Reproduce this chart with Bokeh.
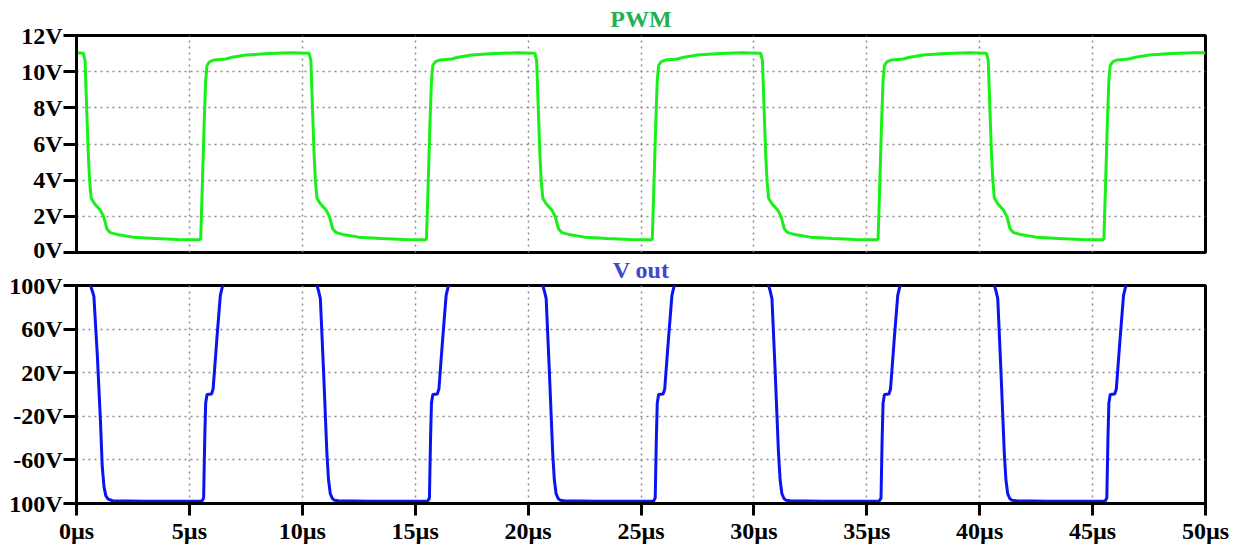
from bokeh.plotting import figure
from bokeh.layouts import column
from bokeh.models import Range1d, FixedTicker
from bokeh.embed import file_html
from bokeh.resources import INLINE

# ---------------- data ----------------
pwm_t = [0.0, 0.30, 0.38, 0.45, 0.52, 0.58, 0.65, 0.80, 1.05, 1.20, 1.35, 1.50, 1.80, 2.50, 3.50, 4.50, 5.45, 5.50, 5.58, 5.65, 5.72, 5.78, 5.90, 6.10, 6.60, 6.90, 7.50, 8.50, 9.50,
         10.30, 10.38, 10.45, 10.52, 10.58, 10.65, 10.80, 11.05, 11.20, 11.35, 11.50, 11.80, 12.50, 13.50, 14.50, 15.45, 15.50, 15.58, 15.65, 15.72, 15.78, 15.90, 16.10, 16.60, 16.90, 17.50, 18.50, 19.50,
         20.30, 20.38, 20.45, 20.52, 20.58, 20.65, 20.80, 21.05, 21.20, 21.35, 21.50, 21.80, 22.50, 23.50, 24.50, 25.45, 25.50, 25.58, 25.65, 25.72, 25.78, 25.90, 26.10, 26.60, 26.90, 27.50, 28.50, 29.50,
         30.30, 30.38, 30.45, 30.52, 30.58, 30.65, 30.80, 31.05, 31.20, 31.35, 31.50, 31.80, 32.50, 33.50, 34.50, 35.45, 35.50, 35.58, 35.65, 35.72, 35.78, 35.90, 36.10, 36.60, 36.90, 37.50, 38.50, 39.50,
         40.30, 40.38, 40.45, 40.52, 40.58, 40.65, 40.80, 41.05, 41.20, 41.35, 41.50, 41.80, 42.50, 43.50, 44.50, 45.45, 45.50, 45.58, 45.65, 45.72, 45.78, 45.90, 46.10, 46.60, 46.90, 47.50, 48.50, 49.50, 50.0]
pwm_v = [11.04, 11.02, 10.6, 8.0, 5.5, 4.0, 3.0, 2.7, 2.35, 2.0, 1.3, 1.1, 1.0, 0.85, 0.77, 0.72, 0.70, 0.75, 4.0, 7.0, 9.5, 10.35, 10.55, 10.65, 10.70, 10.80, 10.92, 11.0, 11.04,
         11.02, 10.6, 8.0, 5.5, 4.0, 3.0, 2.7, 2.35, 2.0, 1.3, 1.1, 1.0, 0.85, 0.77, 0.72, 0.70, 0.75, 4.0, 7.0, 9.5, 10.35, 10.55, 10.65, 10.70, 10.80, 10.92, 11.0, 11.04,
         11.02, 10.6, 8.0, 5.5, 4.0, 3.0, 2.7, 2.35, 2.0, 1.3, 1.1, 1.0, 0.85, 0.77, 0.72, 0.70, 0.75, 4.0, 7.0, 9.5, 10.35, 10.55, 10.65, 10.70, 10.80, 10.92, 11.0, 11.04,
         11.02, 10.6, 8.0, 5.5, 4.0, 3.0, 2.7, 2.35, 2.0, 1.3, 1.1, 1.0, 0.85, 0.77, 0.72, 0.70, 0.75, 4.0, 7.0, 9.5, 10.35, 10.55, 10.65, 10.70, 10.80, 10.92, 11.0, 11.04,
         11.02, 10.6, 8.0, 5.5, 4.0, 3.0, 2.7, 2.35, 2.0, 1.3, 1.1, 1.0, 0.85, 0.77, 0.72, 0.70, 0.75, 4.0, 7.0, 9.5, 10.35, 10.55, 10.65, 10.70, 10.80, 10.92, 11.0, 11.04, 11.05]

vout_t = [0.0, 0.55, 0.62, 0.70, 0.77, 0.92, 1.06, 1.14, 1.22, 1.30, 1.40, 1.60, 3.00, 5.55, 5.63, 5.68, 5.72, 5.78, 5.98, 6.05, 6.22, 6.37, 6.45, 6.55, 6.60,
          10.58, 10.65, 10.72, 10.80, 10.94, 11.09, 11.16, 11.24, 11.32, 11.42, 11.60, 13.00, 15.55, 15.63, 15.68, 15.72, 15.78, 15.98, 16.05, 16.22, 16.37, 16.45, 16.55, 16.60,
          20.58, 20.65, 20.72, 20.80, 20.94, 21.09, 21.16, 21.24, 21.32, 21.42, 21.60, 23.00, 25.55, 25.63, 25.68, 25.72, 25.78, 25.98, 26.05, 26.22, 26.37, 26.45, 26.55, 26.60,
          30.58, 30.65, 30.72, 30.80, 30.94, 31.09, 31.16, 31.24, 31.32, 31.42, 31.60, 33.00, 35.55, 35.63, 35.68, 35.72, 35.78, 35.98, 36.05, 36.22, 36.37, 36.45, 36.55, 36.60,
          40.58, 40.65, 40.72, 40.80, 40.94, 41.09, 41.16, 41.24, 41.32, 41.42, 41.60, 43.00, 45.55, 45.63, 45.68, 45.72, 45.78, 45.98, 46.05, 46.22, 46.37, 46.45, 46.55, 46.60, 50.0]
vout_v = [110, 110, 100, 95, 90, 37, -24, -66, -85, -93, -96, -97.5, -98, -98, -95, -40, -8, 0, 0.5, 5, 52, 91, 98, 104, 110,
          110, 100, 95, 88, 22, -54, -78, -91, -95, -97, -97.5, -98, -98, -95, -40, -8, 0, 0.5, 5, 52, 91, 98, 104, 110,
          110, 100, 95, 88, 22, -54, -78, -91, -95, -97, -97.5, -98, -98, -95, -40, -8, 0, 0.5, 5, 52, 91, 98, 104, 110,
          110, 100, 95, 88, 22, -54, -78, -91, -95, -97, -97.5, -98, -98, -95, -40, -8, 0, 0.5, 5, 52, 91, 98, 104, 110,
          110, 100, 95, 88, 22, -54, -78, -91, -95, -97, -97.5, -98, -98, -95, -40, -8, 0, 0.5, 5, 52, 91, 98, 104, 110, 110]

x_ticks = [0, 5, 10, 15, 20, 25, 30, 35, 40, 45, 50]
x_labels = {t: f"{t}µs" for t in x_ticks}
pwm_ticks = [0, 2, 4, 6, 8, 10, 12]
pwm_labels = {t: f"{t}V" for t in pwm_ticks}
vout_ticks = [-100, -60, -20, 20, 60, 100]
vout_labels = {-100: "100V", -60: "-60V", -20: "-20V", 20: "20V", 60: "60V", 100: "100V"}

FONT = "Liberation Serif"
W = 1231


def style(p, yticks, ylabels, show_x):
    p.outline_line_color = "black"
    p.outline_line_width = 3
    p.xgrid.ticker = FixedTicker(ticks=x_ticks)
    p.ygrid.ticker = FixedTicker(ticks=yticks)
    for g in (p.xgrid, p.ygrid):
        g.grid_line_color = "#8c8c8c"
        g.grid_line_dash = "2 4"
        g.grid_line_width = 1.5
    ya = p.yaxis[0]
    ya.ticker = FixedTicker(ticks=yticks)
    ya.major_label_overrides = ylabels
    ya.axis_line_width = 3
    ya.major_tick_line_width = 3
    ya.major_tick_out = 13
    ya.major_tick_in = 0
    ya.minor_tick_line_color = None
    ya.major_label_standoff = 1
    ya.major_label_text_font = FONT
    ya.major_label_text_font_style = "bold"
    ya.major_label_text_font_size = "24px"
    ya.major_label_text_color = "black"
    xa = p.xaxis[0]
    xa.ticker = FixedTicker(ticks=x_ticks)
    xa.minor_tick_line_color = None
    xa.axis_line_width = 3
    if show_x:
        xa.major_label_overrides = x_labels
        xa.major_tick_line_width = 3
        xa.major_tick_out = 12
        xa.major_tick_in = 0
        xa.major_label_standoff = 2
        xa.major_label_text_font = FONT
        xa.major_label_text_font_style = "bold"
        xa.major_label_text_font_size = "24px"
        xa.major_label_text_color = "black"
    else:
        xa.visible = False
    p.title.align = "center"
    p.title.text_font = FONT
    p.title.text_font_style = "bold"
    p.title.text_font_size = "24px"
    p.title.offset = 0


p1 = figure(width=W, height=262, output_backend="svg", toolbar_location=None,
            x_range=Range1d(0, 50), y_range=Range1d(0, 12), title="PWM",
            min_border_left=76, min_border_right=26, min_border_top=35, min_border_bottom=10)
p1.line(pwm_t, pwm_v, line_color="#19f019", line_width=3)
style(p1, pwm_ticks, pwm_labels, False)
p1.title.text_color = "#22b14c"
p1.title.standoff = 7

p2 = figure(width=W, height=295, output_backend="svg", toolbar_location=None,
            x_range=Range1d(0, 50), y_range=Range1d(-100, 100), title="V out",
            min_border_left=76, min_border_right=26, min_border_top=33, min_border_bottom=43)
p2.line(vout_t, vout_v, line_color="#0a14f0", line_width=3)
style(p2, vout_ticks, vout_labels, True)
p2.title.text_color = "#3f48cc"
p2.title.standoff = 6
p2.border_fill_color = None
p2.margin = (-11, 0, 0, 0)

layout = column(p1, p2, spacing=0)
open("out.html", "w").write(file_html(layout, INLINE))
